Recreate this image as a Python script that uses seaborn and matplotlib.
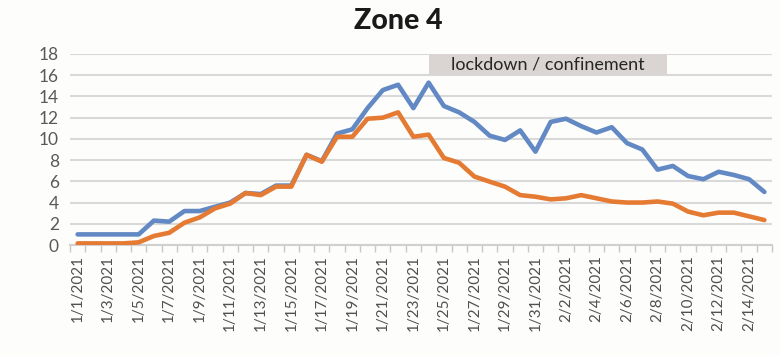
import matplotlib
matplotlib.use("Agg")
import matplotlib.pyplot as plt
import seaborn as sns
import pandas as pd
import numpy as np
from matplotlib.patches import Rectangle

dates = pd.date_range("2021-01-01", "2021-02-15", freq="D")
date_labels = [f"{d.month}/{d.day}/{d.year}" for d in dates]

series_a = [1.0, 1.0, 1.0, 1.0, 1.0, 2.3, 2.2, 3.2, 3.2, 3.6, 4.0, 4.9, 4.8, 5.6, 5.6,
            8.5, 7.9, 10.5, 10.9, 12.9, 14.6, 15.1, 12.9, 15.3, 13.1, 12.5, 11.6, 10.3,
            9.9, 10.8, 8.8, 11.6, 11.9, 11.2, 10.6, 11.1, 9.6, 9.0, 7.1, 7.45, 6.5, 6.2,
            6.9, 6.6, 6.2, 5.0]
series_b = [0.15, 0.15, 0.15, 0.15, 0.25, 0.85, 1.15, 2.1, 2.6, 3.45, 3.9, 4.9, 4.7, 5.5,
            5.5, 8.5, 7.85, 10.2, 10.2, 11.9, 12.0, 12.5, 10.2, 10.4, 8.2, 7.75, 6.45, 5.97,
            5.5, 4.7, 4.55, 4.3, 4.4, 4.7, 4.4, 4.1, 4.0, 4.0, 4.1, 3.9, 3.15, 2.8, 3.05,
            3.05, 2.7, 2.35]
series_names = ["A", "B"]
y_ticks = [0, 2, 4, 6, 8, 10, 12, 14, 16, 18]
title = "Zone 4"
annotation = "lockdown / confinement"

sns.set_theme(style="white")
plt.rcParams["font.family"] = ["Lato", "DejaVu Sans"]

n = len(date_labels)
df = pd.DataFrame({
    "idx": list(range(n)) * 2,
    "value": series_a + series_b,
    "series": [series_names[0]] * n + [series_names[1]] * n,
})

bg = "#fdfdfc"
fig = plt.figure(figsize=(7.8, 3.56), dpi=100, facecolor=bg)
ax = fig.add_axes([70 / 780, 1 - 245 / 356, 702 / 780, 191 / 356])
ax.set_facecolor(bg)

sns.lineplot(data=df, x="idx", y="value", hue="series",
             palette={"A": "#6289c4", "B": "#e57a33"}, linewidth=3.3,
             legend=False, ax=ax, solid_capstyle="round", solid_joinstyle="round",
             zorder=3)

ax.set_xlim(-0.5, n - 0.5)
ax.set_ylim(0, 18)
ax.set_yticks(y_ticks)
ax.set_yticklabels([str(t) for t in y_ticks], fontsize=12.5, color="#595959")
ax.set_xticks(range(0, n, 2))
ax.set_xticklabels(date_labels[::2], rotation=90, fontsize=11, color="#505050")
ax.set_xticks(np.arange(-0.5, n, 1.0), minor=True)
ax.tick_params(axis="x", which="major", length=0, pad=7)
ax.tick_params(axis="x", which="minor", length=5, width=1, color="#c8c8c8", bottom=True)
ax.tick_params(axis="y", length=0, pad=8)
ax.set_xlabel("")
ax.set_ylabel("")
ax.grid(axis="y", color="#d9d9d9", linewidth=1.5, zorder=0)
ax.set_axisbelow(True)
for s in ["left", "right", "top"]:
    ax.spines[s].set_visible(False)
ax.spines["bottom"].set_color("#d0d0d0")
ax.spines["bottom"].set_linewidth(1.5)

ax.add_patch(Rectangle((23.0, 16.0), 15.6, 2.0, facecolor="#dad5d2", edgecolor="none",
                       zorder=2))
ax.text(30.8, 17.0, annotation, ha="center", va="center", fontsize=13,
        color="#262626", zorder=4)

fig.text(398 / 780, 1 - 21 / 356, title, ha="center", va="center", fontsize=20.5,
         fontweight="black", color="#1a1a1a")

fig.savefig("out.png", dpi=100, facecolor=bg)
